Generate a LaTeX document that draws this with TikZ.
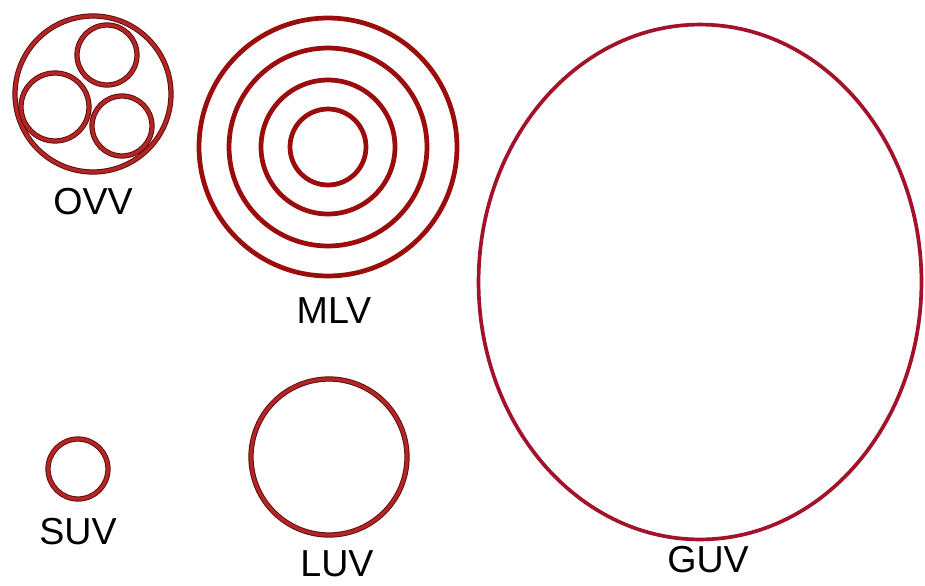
\documentclass[tikz,border=0pt]{standalone}
\usepackage{fontspec}
\setmainfont{Liberation Sans}
\usepackage{xcolor}
\usepackage{tikz}
\usetikzlibrary{positioning,shapes.geometric}
\definecolor{ringred}{RGB}{180,38,38}
\definecolor{ringedge}{RGB}{95,12,12}
\definecolor{mlvred}{RGB}{155,12,12}
\definecolor{guvred}{RGB}{163,18,42}

\begin{document}
\begin{tikzpicture}[
  x=0.02cm, y=-0.02cm,
  font=\fontsize{21.4}{24}\selectfont,
  vesicle/.style={circle, draw=ringedge, line width=.55pt, double=ringred, double distance=1.9pt, inner sep=0pt},
  lamella/.style={circle, draw=mlvred, line width=2.7pt, inner sep=0pt},
  giant/.style={ellipse, draw=guvred, line width=2.1pt, inner sep=0pt},
  tag/.style={inner sep=0pt, text=black}
]
\useasboundingbox[fill=white] (0,0) rectangle (925,585);
\node[vesicle, minimum size=3.12cm] (ovv) at (93,94) {};
\node[vesicle, minimum size=1.2cm] (ovvtop) at (107,55) {};
\node[vesicle, minimum size=1.36cm] (ovvleft) at (55,107) {};
\node[vesicle, minimum size=1.2cm] (ovvright) at (122,126) {};
\node[lamella, minimum size=5.16cm] (mlv) at (328,147) {};
\node[lamella, minimum size=3.96cm] (mlvtwo) at (328,147) {};
\node[lamella, minimum size=2.68cm] (mlvthree) at (328,147) {};
\node[lamella, minimum size=1.52cm] (mlvcore) at (328,147) {};
\node[vesicle, minimum size=1.2cm] (suv) at (78,469) {};
\node[vesicle, minimum size=3.12cm] (luv) at (329,457) {};
\node[giant, minimum width=8.86cm, minimum height=10.3cm] (guv) at (700,282) {};
\node[tag, below=0.3cm of ovv] (ovvtag) {OVV};
\node[tag, below=0.38cm of mlv, xshift=0.12cm] (mlvtag) {MLV};
\node[tag, below=0.36cm of suv] (suvtag) {SUV};
\node[tag, below=0.3cm of luv, xshift=0.16cm] (luvtag) {LUV};
\node[tag, below=0.1cm of guv, xshift=0.16cm] (guvtag) {GUV};
\end{tikzpicture}
\end{document}
